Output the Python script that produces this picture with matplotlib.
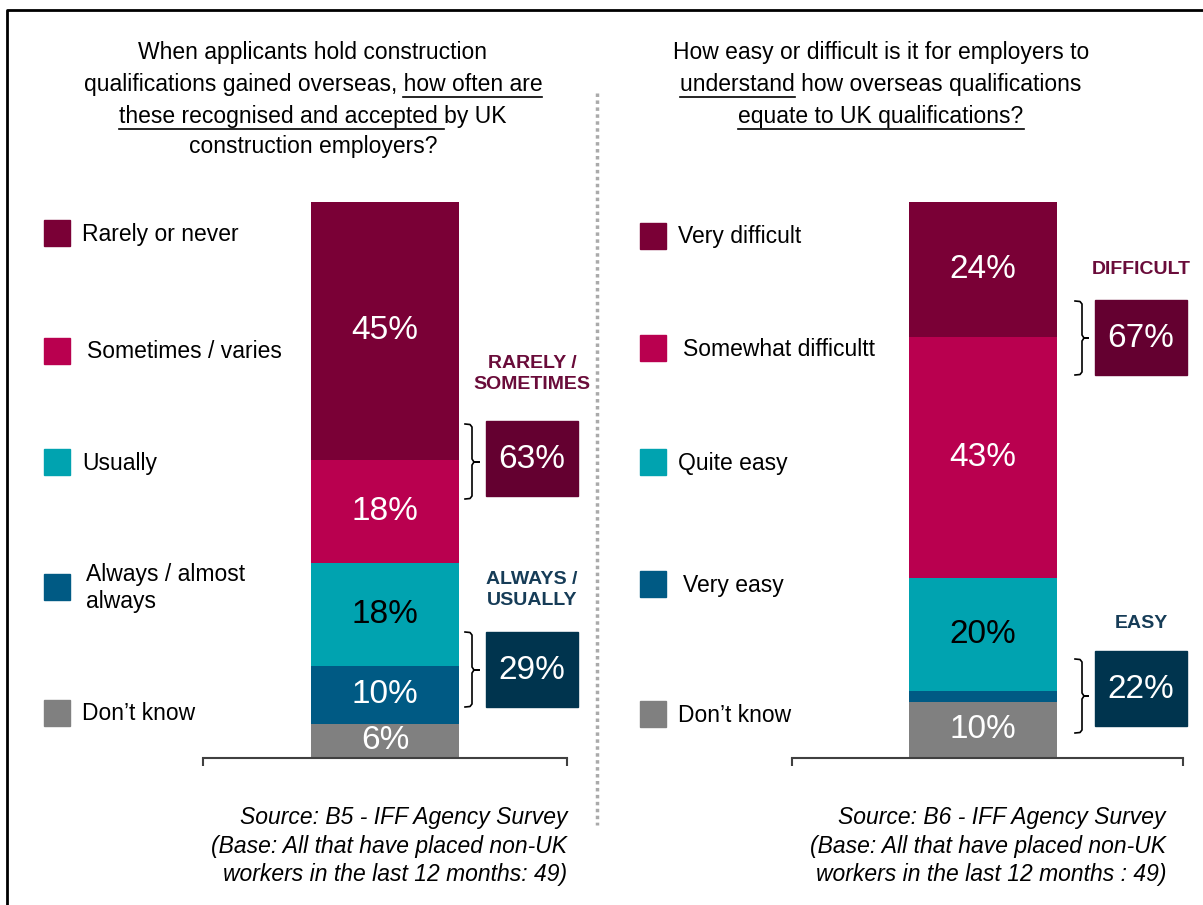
import matplotlib
matplotlib.use('Agg')
import matplotlib.pyplot as plt
from matplotlib.lines import Line2D
from matplotlib.patches import Rectangle
from matplotlib.font_manager import FontProperties

plt.rcParams['font.family'] = ['Liberation Sans', 'DejaVu Sans']

# data
left_cats = ['Rarely or never', 'Sometimes / varies', 'Usually', 'Always / almost\nalways', 'Don\u2019t know']
left_vals = [45, 18, 18, 10, 6]
right_cats = ['Very difficult', 'Somewhat difficultt', 'Quite easy', 'Very easy', 'Don\u2019t know']
right_vals = [24, 43, 20, 2, 10]
left_groups = ['RARELY /\nSOMETIMES', 'ALWAYS /\nUSUALLY']
left_group_vals = [63, 29]
right_groups = ['DIFFICULT', 'EASY']
right_group_vals = [67, 22]

colors = ['#7a0036', '#b9004f', '#00a3b0', '#005a84', '#808080']
label_colors = ['white', 'white', 'black', 'white', 'white']
group_box = ['#640030', '#00344e']
group_text = ['#6a0c3a', '#163c57']

W, H = 1203, 905
fig = plt.figure(figsize=(W / 100, H / 100), dpi=100)

BIG = 24
MID = 16.5


def fx(x):
    return x / W


def fy(y):
    return 1 - y / H


def ftext(x, y, s, **kw):
    return fig.text(fx(x), fy(y), s, **kw)


def fline(xs, ys, **kw):
    fig.add_artist(Line2D([fx(x) for x in xs], [fy(y) for y in ys], **kw))


def frect(x0, y0, x1, y1, **kw):
    fig.add_artist(Rectangle((fx(x0), fy(y1)), fx(x1) - fx(x0), fy(y0) - fy(y1), **kw))


# outer border
fline([7, 7, 1210], [915, 10, 10], color='black', lw=2)
# dotted separator
fline([597, 597], [93, 825], color='#aaaaaa', lw=2.5, linestyle=(0, (1, 1)))


def stacked_bar(rect, vals, xlim, width):
    ax = fig.add_axes(rect)
    bottom = 0
    total = sum(vals)
    for i in reversed(range(len(vals))):
        v = vals[i]
        ax.bar(0, v, width=width, bottom=bottom, color=colors[i])
        if v >= 5:
            ax.text(0, bottom + v / 2, '%d%%' % v, ha='center', va='center',
                    fontsize=BIG, color=label_colors[i])
        bottom += v
    ax.set_ylim(0, total)
    ax.set_xlim(*xlim)
    for s in ['left', 'right', 'top']:
        ax.spines[s].set_visible(False)
    ax.spines['bottom'].set_color('#404040')
    ax.spines['bottom'].set_linewidth(1.5)
    ax.set_yticks([])
    ax.set_xticks(list(xlim))
    ax.set_xticklabels([])
    ax.tick_params(axis='x', direction='out', length=6, width=1.5, color='#404040')
    return ax


stacked_bar([fx(203), fy(758), 364 / W, 556 / H], left_vals, (-0.5, 0.5), 0.404)
stacked_bar([fx(792), fy(758), 391 / W, 556 / H], right_vals, (-0.4885, 0.5115), 0.378)

# legends
left_rows = [233, 351, 462, 587, 713]
left_lx = [82, 87, 82, 86, 82]
for i, cat in enumerate(left_cats):
    frect(44, left_rows[i] - 13, 70, left_rows[i] + 13, color=colors[i])
    ftext(left_lx[i], left_rows[i] + 1, cat, fontsize=MID, va='center', ha='left', linespacing=1.2)

right_rows = [236, 348, 462, 584, 714]
right_lx = [678, 683, 678, 683, 678]
for i, cat in enumerate(right_cats):
    frect(640, right_rows[i] - 13, 666, right_rows[i] + 13, color=colors[i])
    ftext(right_lx[i], right_rows[i] + 1, cat, fontsize=MID, va='center', ha='left')


# brackets, group boxes and headers
def bracket(x0, xv, x1, y0, ym, y1):
    xs = [x0, x0 + 5, xv, xv, xv + 2, x1, xv + 2, xv, xv, x0 + 5, x0]
    ys = [y0, y0 + 0.5, y0 + 3, ym - 3, ym, ym, ym, ym + 3, y1 - 3, y1 - 0.5, y1]
    fline(xs, ys, color='black', lw=1.2)


def group(title, val, k, bx, by0, by1, ty, brk):
    frect(bx, by0, bx + 92, by1, color=group_box[k])
    ftext(bx + 46, (by0 + by1) / 2 + 1, '%d%%' % val, fontsize=BIG, color='white', ha='center', va='center')
    ftext(bx + 46, ty, title, fontsize=14, fontweight='bold', color=group_text[k],
          ha='center', va='center', linespacing=1.35)
    bracket(*brk)


group(left_groups[0], left_group_vals[0], 0, 486, 421, 496, 374, (465, 472, 479, 424, 462, 499))
group(left_groups[1], left_group_vals[1], 1, 486, 632, 707, 590, (465, 472, 479, 632, 670, 707))
group(right_groups[0], right_group_vals[0], 0, 1095, 300, 375, 270, (1075, 1082, 1088, 301, 338, 375))
group(right_groups[1], right_group_vals[1], 1, 1095, 651, 726, 623, (1075, 1082, 1088, 659, 696, 733))

# titles with underlined parts
renderer = fig.canvas.get_renderer()
tprop = FontProperties(family=['Liberation Sans'], size=MID)


def tw(s):
    if not s:
        return 0
    w1, _, _ = renderer.get_text_width_height_descent(s + 'l', tprop, ismath=False)
    w2, _, _ = renderer.get_text_width_height_descent('l', tprop, ismath=False)
    return w1 - w2


def title_line(cx, y, parts):
    full = ''.join(p for p, u in parts)
    ftext(cx, y, full, fontproperties=tprop, ha='center', va='center')
    left = cx - tw(full) / 2
    pos = 0
    for p, u in parts:
        if u:
            x0 = left + tw(full[:pos])
            x1 = x0 + tw(p)
            fline([x0, x1], [y + 13, y + 13], color='black', lw=1.2)
        pos += len(p)


title_line(313, 53, [('When applicants hold construction', False)])
title_line(313, 84, [('qualifications gained overseas, ', False), ('how often are', True)])
title_line(313, 116, [('these recognised and accepted ', True), ('by UK', False)])
title_line(313, 147, [('construction employers?', False)])

title_line(881, 53, [('How easy or difficult is it for employers to', False)])
title_line(881, 84, [('understand', True), (' how overseas qualifications', False)])
title_line(881, 116, [('equate to UK qualifications?', True)])

# sources
ftext(567, 846, 'Source: B5 - IFF Agency Survey\n(Base: All that have placed non-UK\nworkers in the last 12 months: 49)',
      fontsize=MID, style='italic', ha='right', va='center', linespacing=1.28)
ftext(1166, 846, 'Source: B6 - IFF Agency Survey\n(Base: All that have placed non-UK\nworkers in the last 12 months : 49)',
      fontsize=MID, style='italic', ha='right', va='center', linespacing=1.28)

fig.savefig('out.png', dpi=100)
